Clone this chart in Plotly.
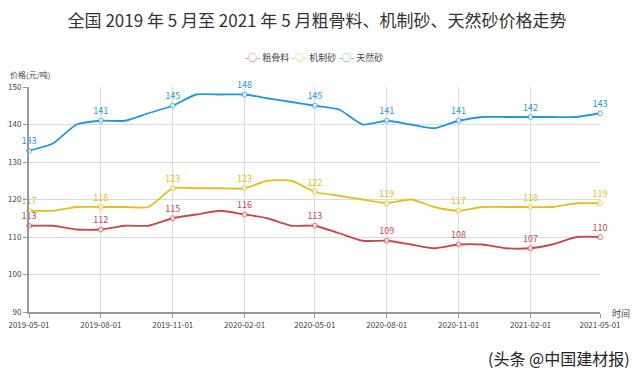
import plotly.graph_objects as go

months = ["2019-05-01","2019-06-01","2019-07-01","2019-08-01","2019-09-01","2019-10-01",
          "2019-11-01","2019-12-01","2020-01-01","2020-02-01","2020-03-01","2020-04-01",
          "2020-05-01","2020-06-01","2020-07-01","2020-08-01","2020-09-01","2020-10-01",
          "2020-11-01","2020-12-01","2021-01-01","2021-02-01","2021-03-01","2021-04-01",
          "2021-05-01"]
coarse = [113,113,112,112,113,113,115,116,117,116,115,113,113,111,109,109,108,107,108,108,107,107,108,110,110]
machine = [117,117,118,118,118,118,123,123,123,123,125,125,122,121,120,119,120,118,117,118,118,118,118,119,119]
natural = [133,135,140,141,141,143,145,148,148,148,147,146,145,144,140,141,140,139,141,142,142,142,142,142,143]
tick_vals = ["2019-05-01","2019-08-01","2019-11-01","2020-02-01","2020-05-01",
             "2020-08-01","2020-11-01","2021-02-01","2021-05-01"]
names = ["粗骨料","机制砂","天然砂"]
colors = ["#cc4450","#e6bc20","#2299d6"]

FONT = "Noto Sans CJK SC"
OFF = 8  # default page margin of the html body
W, H = 640 - OFF, 380 - OFF
# plot area in screen pixels: x 29..600, y 87..312
L, T = 29 - OFF, 87 - OFF
R, B = W - (600 - OFF), H - (312 - OFF)
fig = go.Figure()
for name, vals, col in zip(names, [coarse, machine, natural], colors):
    shown = [i % 3 == 0 for i in range(len(vals))]
    fig.add_trace(go.Scatter(
        x=months, y=vals, name=name, mode="lines+markers+text",
        line=dict(color=col, width=1.8, shape="spline", smoothing=0.6),
        marker=dict(size=[5 if s else 0 for s in shown], color="white",
                    line=dict(color=col, width=1), symbol="circle"),
        text=[str(v) if s else "" for v, s in zip(vals, shown)],
        textposition="top center",
        textfont=dict(color=col, size=9, family=FONT),
        cliponaxis=False, showlegend=False,
    ))

def px_x(p):
    return (p - OFF - L) / (W - L - R)

def px_y(p):
    return 1 - (p - OFF - T) / (H - T - B)

legend_ann = []
for i, (name, col) in enumerate(zip(names, colors)):
    legend_ann.append(dict(
        text=f"<span style='color:{col}'>-○-</span> {name}",
        x=px_x(243 + 47 * i), xref="paper", xanchor="left",
        y=px_y(57), yref="paper", yanchor="middle", showarrow=False,
        font=dict(size=9, color="#444", family=FONT)))

fig.update_layout(
    width=W, height=H,
    margin=dict(l=L, r=R, t=T, b=B, autoexpand=False),
    paper_bgcolor="white", plot_bgcolor="white",
    font=dict(family=FONT, color="#444", size=8),
    title=dict(text="全国 2019 年 5 月至 2021 年 5 月粗骨料、机制砂、天然砂价格走势",
               x=(317 - OFF) / W, xanchor="center", y=1 - (21 - OFF) / H, yanchor="middle",
               font=dict(size=17, color="#333", family=FONT)),
    showlegend=False,
    xaxis=dict(type="date", range=["2019-05-01","2021-05-01"], tickvals=tick_vals,
               tickformat="%Y-%m-%d", showgrid=True, gridcolor="#dcdcdc", gridwidth=1,
               showline=True, linecolor="#999", linewidth=2, ticks="outside",
               ticklen=4, tickcolor="#999", tickfont=dict(size=8, color="#444"),
               zeroline=False, automargin=False),
    yaxis=dict(range=[90,150], dtick=10, showgrid=True, gridcolor="#dcdcdc", gridwidth=1,
               showline=True, linecolor="#999", linewidth=2, ticks="outside",
               ticklen=4, tickcolor="#999", tickfont=dict(size=8, color="#444"),
               zeroline=False, automargin=False),
    annotations=legend_ann + [
        dict(text="价格(元/吨)", x=px_x(8), xref="paper", xanchor="left", y=px_y(74),
             yref="paper", showarrow=False, font=dict(size=8, color="#444"), yanchor="middle"),
        dict(text="时间", x=px_x(610), xref="paper", xanchor="left", y=px_y(313),
             yref="paper", yanchor="middle", showarrow=False, font=dict(size=9, color="#444")),
        dict(text="(头条 @中国建材报)", x=px_x(632), xref="paper", y=px_y(358), yref="paper",
             showarrow=False, font=dict(size=16, color="#222"), xanchor="right",
             yanchor="middle"),
    ],
)
fig.write_html("out.html")
